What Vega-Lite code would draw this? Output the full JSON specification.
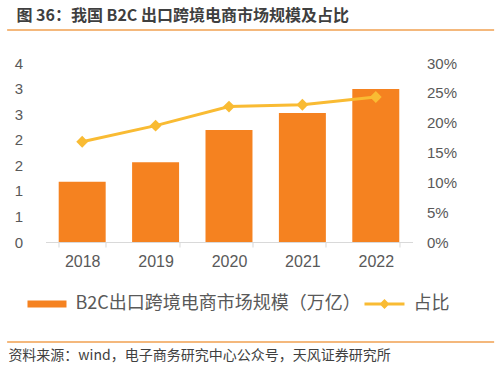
{
  "$schema": "https://vega.github.io/schema/vega-lite/v6.json",
  "padding": {"left": 6, "right": 6, "top": 8, "bottom": 4},
  "background": "white",
  "config": {"view": {"stroke": null}, "font": "Liberation Sans"},
  "spacing": 25,
  "align": "each",
  "center": true,
  "resolve": {"legend": {"color": "independent"}, "scale": {"color": "independent"}},
  "vconcat": [
    {
      "width": 487,
      "height": 1,
      "title": {"text": "图 36：我国 B2C 出口跨境电商市场规模及占比", "anchor": "start", "font": "Noto Sans CJK SC", "fontSize": 16, "fontWeight": "bold", "color": "#3f3f3f", "dx": 10, "offset": 5},
      "data": {"values": [{}]},
      "mark": {"type": "rule", "color": "#F0A050", "strokeWidth": 1.5},
      "encoding": {"y": {"datum": 0, "type": "quantitative", "axis": null, "scale": {"domain": [0, 1]}}}
    },
    {
      "width": 367,
      "height": 179,
      "data": {"values": [
        {"year": "2018", "size": 1.18, "share": 0.168},
        {"year": "2019", "size": 1.56, "share": 0.195},
        {"year": "2020", "size": 2.19, "share": 0.227},
        {"year": "2021", "size": 2.52, "share": 0.230},
        {"year": "2022", "size": 2.99, "share": 0.243}
      ]},
      "encoding": {
        "x": {"field": "year", "type": "nominal", "scale": {"paddingInner": 0.36, "paddingOuter": 0.18},
          "axis": {"title": null, "labelAngle": 0, "labelFontSize": 16, "labelColor": "#595959", "labelPadding": 6, "domainColor": "#d9d9d9", "tickColor": "#d9d9d9", "tickSize": 5, "tickBand": "extent", "grid": false}}
      },
      "layer": [
        {
          "mark": {"type": "bar", "color": "#F58220"},
          "encoding": {
            "y": {"field": "size", "type": "quantitative", "scale": {"domain": [0, 3.5], "nice": false},
              "axis": {"title": null, "values": [0, 0.5, 1, 1.5, 2, 2.5, 3, 3.5], "format": ".0f", "domain": false, "ticks": false, "grid": false, "labelFontSize": 15, "labelColor": "#595959", "labelPadding": 23}},
            "color": {"datum": "B2C出口跨境电商市场规模（万亿）",
              "scale": {"domain": ["B2C出口跨境电商市场规模（万亿）", "占比"], "range": ["#F58220", "#F9BB33"]},
              "legend": {"orient": "bottom", "title": null, "direction": "horizontal", "labelFont": "Noto Sans CJK SC", "labelFontSize": 18, "labelColor": "#595959", "labelLimit": 0, "symbolSize": 100, "labelOffset": 9, "columnPadding": 3, "offset": 23, "padding": 3,
                "encode": {"symbols": {"update": {
                  "shape": {"signal": "datum.value === '占比' ? 'M-6.2,-0.3H1.8V0.3H-6.2Z M-2.2,-1L-1.2,0L-2.2,1L-3.2,0Z' : 'M-6,-0.7H1.8V0.7H-6Z'"},
                  "fill": {"signal": "datum.value === '占比' ? '#F9BB33' : '#F58220'"},
                  "stroke": {"value": "transparent"},
                  "strokeWidth": {"value": 0},
                  "opacity": {"value": 1}
                }}}}}
          }
        },
        {
          "mark": {"type": "line", "strokeWidth": 3},
          "encoding": {
            "y": {"field": "share", "type": "quantitative", "scale": {"domain": [0, 0.3], "nice": false},
              "axis": {"orient": "right", "title": null, "values": [0, 0.05, 0.1, 0.15, 0.2, 0.25, 0.3], "format": ".0%", "domain": false, "ticks": false, "grid": false, "labelFontSize": 15, "labelColor": "#595959", "labelPadding": 14}},
            "color": {"datum": "占比"}
          }
        },
        {
          "mark": {"type": "point", "shape": "diamond", "filled": true, "opacity": 1, "size": 140},
          "encoding": {
            "y": {"field": "share", "type": "quantitative", "scale": {"domain": [0, 0.3], "nice": false}, "axis": null},
            "color": {"datum": "占比"}
          }
        }
      ],
      "resolve": {"scale": {"y": "independent"}}
    },
    {
      "width": 487,
      "height": 1,
      "title": {"text": "资料来源：wind，电子商务研究中心公众号，天风证券研究所", "orient": "bottom", "anchor": "start", "font": "Noto Sans CJK SC", "fontSize": 14, "fontWeight": "normal", "color": "#404040", "dx": 2, "offset": 6},
      "data": {"values": [{}]},
      "mark": {"type": "rule", "color": "#F0A050", "strokeWidth": 1.5},
      "encoding": {"y": {"datum": 0, "type": "quantitative", "axis": null, "scale": {"domain": [0, 1]}}}
    }
  ]
}
